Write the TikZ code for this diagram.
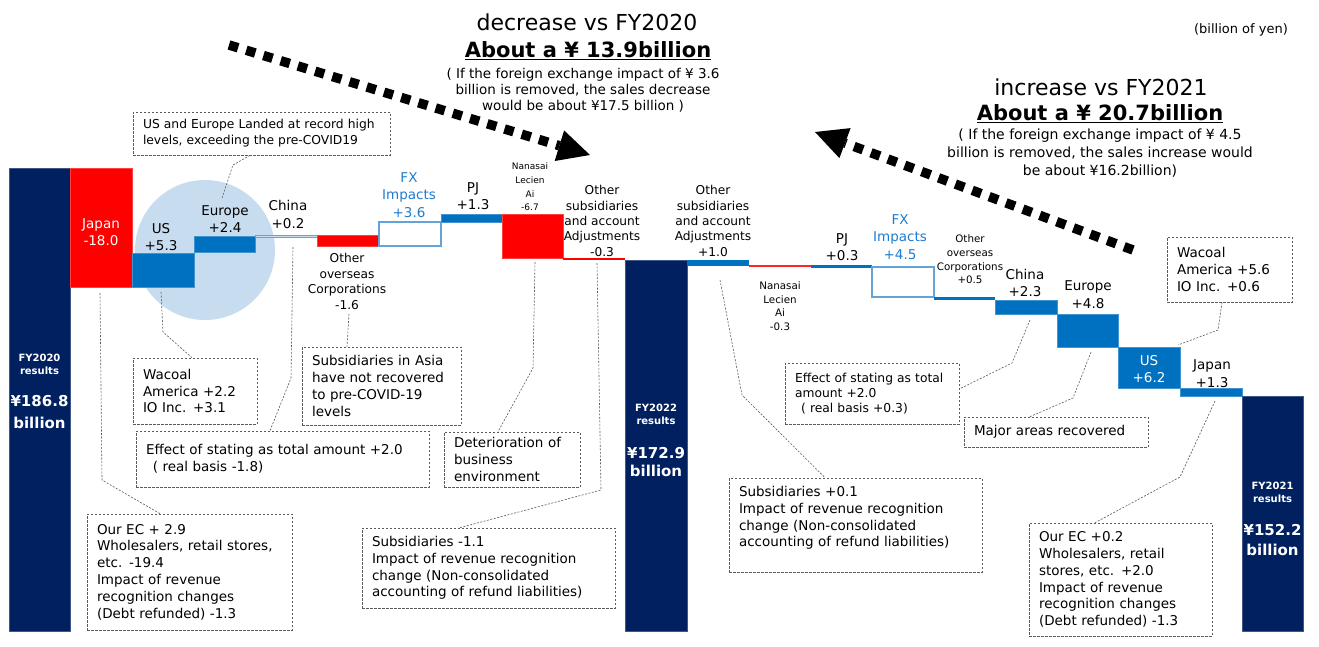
\documentclass[tikz,border=0pt]{standalone}
\usepackage{fontspec}
\setmainfont{DejaVu Sans}
\usetikzlibrary{calc}
\definecolor{navy}{RGB}{0,32,96}
\definecolor{wred}{RGB}{255,0,0}
\definecolor{wblue}{RGB}{0,112,192}
\definecolor{fxline}{RGB}{100,162,218}
\definecolor{fxtext}{RGB}{30,125,205}
\definecolor{circ}{RGB}{200,220,240}
\definecolor{cgray}{RGB}{90,90,90}
\begin{document}
\begin{tikzpicture}[x=1pt,y=-1pt,
  barbox/.style={fill=#1, draw=#1!75!white, line width=0.5pt},
  fxbox/.style={fill=white, draw=fxline, line width=1.3pt},
  lab/.style={font=\fontsize{13.5}{17.5}\selectfont, align=center, inner sep=0pt},
  labm/.style={font=\fontsize{12.2}{15.4}\selectfont, align=center, inner sep=0pt},
  labs/.style={font=\fontsize{9}{13.7}\selectfont, align=center, inner sep=0pt},
  labr/.style={font=\fontsize{10.3}{13.6}\selectfont, align=center, inner sep=0pt},
  fytop/.style={font=\fontsize{10}{13}\selectfont\bfseries, text=white, align=center, inner sep=0pt},
  fybig/.style={font=\fontsize{15}{#1}\selectfont\bfseries, text=white, align=center, inner sep=0pt},
  callout/.style={draw=cgray, dash pattern=on 2.5pt off 1.5pt, line width=0.7pt,
    font=\fontsize{13.5}{16.8}\selectfont, align=left, inner xsep=10pt, inner ysep=0pt},
  conn/.style={draw=cgray, line width=0.6pt, dash pattern=on 2pt off 1.5pt},
  dotarrow/.style={line width=9.5pt, dash pattern=on 9.5pt off 8.5pt}
]
\path[use as bounding box, fill=white] (0,0) rectangle (1319,646);

% highlight circle
\fill[circ] (205,250) circle (70);

% ---- left waterfall ----
\draw[barbox=navy] (9,168) rectangle (70,631);
\draw[barbox=wred] (70,168) rectangle (132,287);
\draw[barbox=wblue] (132,253) rectangle (194,287);
\draw[barbox=wblue] (194,236) rectangle (255,252);
\draw[fill=fxline!35!white, draw=fxline, line width=0.6pt] (255,235) rectangle (317,237.5);
\draw[barbox=wred] (317,235) rectangle (379,246);
\draw[fxbox] (379,222) rectangle (441,246);
\draw[barbox=wblue] (441,214) rectangle (502,222);
\draw[barbox=wred] (502,214) rectangle (563,258);
\fill[wred] (563,258) rectangle (625,260);
\draw[barbox=navy] (625,260) rectangle (687,631);

% ---- right waterfall ----
\fill[wblue] (687,260) rectangle (749,266);
\fill[wred!85!white] (749,265) rectangle (811,266.8);
\fill[wblue] (811,265) rectangle (872,268);
\draw[fxbox] (872,267) rectangle (934,297);
\fill[wblue] (934,297) rectangle (995,299.5);
\draw[barbox=wblue] (995,300) rectangle (1057,314);
\draw[barbox=wblue] (1057,314) rectangle (1118,347);
\draw[barbox=wblue] (1118,347) rectangle (1180,388);
\draw[barbox=wblue] (1180,388) rectangle (1242,396);
\draw[barbox=navy] (1242,396) rectangle (1303,631);

% ---- FY bar texts ----
\node[fytop] (fy20a) at (39.5,364) {FY2020\\results};
\node[fybig=21.5] (fy20b) at (39.5,412) {¥186.8\\billion};
\node[fytop] (fy22a) at (656,414) {FY2022\\results};
\node[fybig=18.5] (fy22b) at (656,462) {¥172.9\\billion};
\node[fytop] (fy21a) at (1272.5,492) {FY2021\\results};
\node[fybig=19.3] (fy21b) at (1272.5,540) {¥152.2\\billion};

% ---- left labels ----
\node[lab, text=white] (ljp) at (101,232) {Japan\\-18.0};
\node[lab] (lus) at (161,237) {US\\+5.3};
\node[lab] (leu) at (225,219) {Europe\\+2.4};
\node[lab] (lcn) at (288,214.5) {China\\+0.2};
\node[labm] (loo) at (347,281.5) {Other\\overseas\\Corporations\\-1.6};
\node[lab, text=fxtext] (lfx) at (409,195) {FX\\Impacts\\+3.6};
\node[lab] (lpj) at (473,196) {PJ\\+1.3};
\node[labs] (lns) at (530,187) {Nanasai\\Lecien\\Ai\\-6.7};
\node[labm] (los) at (602,221) {Other\\subsidiaries\\and account\\Adjustments\\-0.3};

% ---- right labels ----
\node[labm] (los2) at (713,221) {Other\\subsidiaries\\and account\\Adjustments\\+1.0};
\node[labr] (lns2) at (780,306) {Nanasai\\Lecien\\Ai\\-0.3};
\node[lab] (lpj2) at (842,247) {PJ\\+0.3};
\node[lab, text=fxtext] (lfx2) at (900,237) {FX\\Impacts\\+4.5};
\node[labr] (loo2) at (970,259.5) {Other\\overseas\\Corporations\\+0.5};
\node[lab] (lcn2) at (1025,283) {China\\+2.3};
\node[lab] (leu2) at (1088,294.5) {Europe\\+4.8};
\node[lab, text=white] (lus2) at (1149,369) {US\\+6.2};
\node[lab] (ljp2) at (1212,373.5) {Japan\\+1.3};

% ---- titles ----
\node[font=\fontsize{22}{26}\selectfont, inner sep=0pt] (t1a) at (587,22) {decrease vs FY2020};
\node[font=\fontsize{21}{26}\selectfont\bfseries, inner sep=0pt] (t1b) at (588,51) {\underline{About a ¥ 13.9billion}};
\node[font=\fontsize{13.5}{16}\selectfont, align=center, inner sep=0pt] (t1c) at (583,90)
  {( If the foreign exchange impact of ¥ 3.6\\billion is removed, the sales decrease\\would be about ¥17.5 billion )};
\node[font=\fontsize{22}{26}\selectfont, inner sep=0pt] (t2a) at (1101,87) {increase vs FY2021};
\node[font=\fontsize{21}{26}\selectfont\bfseries, inner sep=0pt] (t2b) at (1100,114) {\underline{About a ¥ 20.7billion}};
\node[font=\fontsize{14}{18}\selectfont, align=center, inner sep=0pt] (t2c) at (1100,153)
  {( If the foreign exchange impact of ¥ 4.5\\billion is removed, the sales increase would\\be about ¥16.2billion)};
\node[font=\fontsize{13}{16}\selectfont, inner sep=0pt] (unit) at (1241,30) {(billion of yen)};

% ---- dotted arrows ----
\coordinate (a1s) at (229,45);
\coordinate (a1e) at (559.4,145.7);
\coordinate (a1t) at (590,155);
\coordinate (a1p) at (554.7,161.0);
\coordinate (a1q) at (564.1,130.4);
\draw[dotarrow] (a1s) -- (a1e);
\fill (a1t) -- (a1p) -- (a1q) -- cycle;
\coordinate (a2s) at (1133,250);
\coordinate (a2e) at (845,143.1);
\coordinate (a2t) at (815,132);
\coordinate (a2p) at (850.6,128.1);
\coordinate (a2q) at (839.4,158.1);
\draw[dotarrow] (a2s) -- (a2e);
\fill (a2t) -- (a2p) -- (a2q) -- cycle;

% ---- callout boxes ----
\node[callout, font=\fontsize{12.3}{16}\selectfont, text width=237pt, minimum height=43pt] (cA) at (261.5,133.5)
  {US and Europe Landed at record high\\levels, exceeding the pre-COVID19};
\node[callout, text width=104pt, minimum height=66pt] (cB) at (195,391)
  {Wacoal\\America +2.2\\IO Inc. +3.1};
\node[callout, text width=273pt, minimum height=56pt] (cC) at (282.5,459)
  {Effect of stating as total amount +2.0\\\hspace*{0.5em}( real basis -1.8)};
\node[callout, text width=139pt, minimum height=78pt] (cD) at (381.5,386)
  {Subsidiaries in Asia\\have not recovered\\to pre-COVID-19\\levels};
\node[callout, text width=116pt, minimum height=55pt] (cE) at (512,459.5)
  {Deterioration of\\business\\environment};
\node[callout, text width=233pt, minimum height=80pt] (cF) at (488.5,568)
  {Subsidiaries -1.1\\Impact of revenue recognition\\change (Non-consolidated\\accounting of refund liabilities)};
\node[callout, text width=185pt, minimum height=116pt] (cG) at (189.5,572)
  {Our EC + 2.9\\Wholesalers, retail stores,\\etc. -19.4\\Impact of revenue\\recognition changes\\(Debt refunded) -1.3};
\node[callout, text width=233pt, minimum height=94pt] (cH) at (855.5,525)
  {Subsidiaries +0.1\\Impact of revenue recognition\\change (Non-consolidated\\accounting of refund liabilities)\\\mbox{}};
\node[callout, font=\fontsize{12.3}{15.2}\selectfont, text width=154pt, minimum height=61pt] (cI) at (872,393.5)
  {Effect of stating as total\\amount +2.0\\\hspace*{0.5em}( real basis +0.3)};
\node[callout, text width=164pt, minimum height=30pt] (cJ) at (1056,432)
  {Major areas recovered};
\node[callout, text width=105pt, minimum height=65pt] (cK) at (1229.5,269.5)
  {Wacoal\\America +5.6\\IO Inc. +0.6};
\node[callout, text width=163pt, minimum height=113pt] (cL) at (1120.5,579.5)
  {Our EC +0.2\\Wholesalers, retail\\stores, etc. +2.0\\Impact of revenue\\recognition changes\\(Debt refunded) -1.3};

% ---- connectors ----
\coordinate (xA) at (250,0);   \coordinate (eA) at (222,198);
\draw[conn] (cA.south -| xA) -- (233,165) -- (eA);
\coordinate (xB) at (192,0);   \coordinate (eB) at (161,292);
\draw[conn] (eB) -- (163,332) -- (cB.north -| xB);
\coordinate (xC) at (270,0);   \coordinate (eC) at (293,247);
\draw[conn] (eC) -- (291,378) -- (cC.north -| xC);
\coordinate (xD) at (347,0);   \coordinate (eD) at (349,314);
\draw[conn] (eD) -- (cD.north -| xD);
\coordinate (xE) at (498,0);   \coordinate (eE) at (535,262);
\draw[conn] (eE) -- (533,368) -- (cE.north -| xE);
\coordinate (xF) at (460,0);   \coordinate (eF) at (597,263);
\draw[conn] (eF) -- (601,490) -- (cF.north -| xF);
\coordinate (xG) at (160,0);   \coordinate (eG) at (100,293);
\draw[conn] (eG) -- (102,480) -- (cG.north -| xG);
\coordinate (xH) at (825,0);   \coordinate (eH) at (720,280);
\draw[conn] (eH) -- (742,395) -- (cH.north -| xH);
\coordinate (yI) at (0,389);   \coordinate (eI) at (1030,320);
\draw[conn] (eI) -- (1012,363) -- (cI.east |- yI);
\coordinate (xJ) at (1030,0);  \coordinate (eJ) at (1091,352);
\draw[conn] (eJ) -- (1073,398) -- (cJ.north -| xJ);
\coordinate (xK) at (1222,0);  \coordinate (eK) at (1178,345);
\draw[conn] (cK.south -| xK) -- (1218,330) -- (eK);
\coordinate (xL) at (1095,0);  \coordinate (eL) at (1215,401);
\draw[conn] (eL) -- (1180,477) -- (cL.north -| xL);
\end{tikzpicture}
\end{document}
